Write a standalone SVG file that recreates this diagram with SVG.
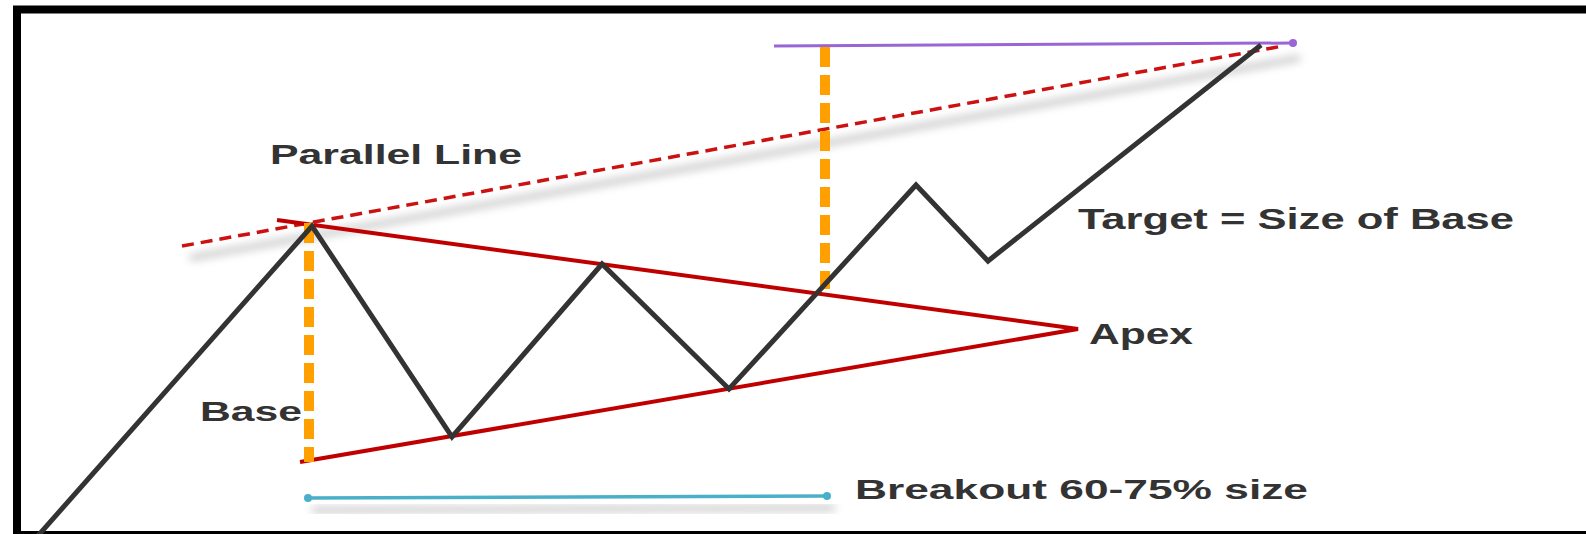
<svg xmlns="http://www.w3.org/2000/svg" width="1586" height="534" viewBox="0 0 1586 534">
<defs>
<style>
.lbl{font-family:"Liberation Sans",Arial,sans-serif;font-weight:bold;fill:#333;}
.price{fill:none;stroke:#333;stroke-width:5;stroke-linejoin:miter;}
.tri{fill:none;stroke:#c00000;stroke-width:4;}
.meas{stroke:#ff9f00;stroke-width:10;stroke-dasharray:20 8;fill:none;}
.shadow{stroke:#9a9a9a;stroke-width:6;opacity:0.55;filter:url(#blur);fill:none;}
</style>
<filter id="blur" x="-10%" y="-200%" width="120%" height="500%"><feGaussianBlur stdDeviation="4"/></filter>
</defs>
<rect x="0" y="0" width="1586" height="534" fill="#fff"/>
<rect x="17" y="9.5" width="1600" height="525.5" fill="none" stroke="#000" stroke-width="8"/>
<g id="shadows">
<line class="shadow" x1="190" y1="258" x2="1300" y2="58"/>
<line class="shadow" x1="312" y1="510" x2="835" y2="508"/>
</g>
<g id="connectors">
<line id="parallel-line" x1="182" y1="246" x2="1283" y2="46" stroke="#cc1111" stroke-width="3.5" stroke-dasharray="12 7"/>
<g id="target-line">
<line x1="774" y1="46" x2="1293" y2="43" stroke="#9a66d6" stroke-width="3"/>
<circle cx="1293" cy="43" r="4" fill="#9a66d6"/>
</g>
<g id="breakout-line">
<line x1="308" y1="498" x2="827" y2="496" stroke="#4ab0c9" stroke-width="3.5"/>
<circle cx="308" cy="498" r="4" fill="#4ab0c9"/>
<circle cx="827" cy="496" r="4" fill="#4ab0c9"/>
</g>
<polyline id="triangle" class="tri" points="277,220 1078,329 300,462"/>
<line id="base-measure" class="meas" x1="309" y1="223" x2="309" y2="462"/>
<line id="target-measure" class="meas" x1="825" y1="47" x2="825" y2="289"/>
<polyline id="price" class="price" points="36,538 312,226 452,437 602,264 729,389 916,185 988,261 1261,45"/>
</g>
<g id="label-parallel"><text class="lbl" x="270" y="164" font-size="28" textLength="252" lengthAdjust="spacingAndGlyphs">Parallel Line</text></g>
<g id="label-target"><text class="lbl" x="1078" y="229" font-size="29" textLength="436" lengthAdjust="spacingAndGlyphs">Target = Size of Base</text></g>
<g id="label-apex"><text class="lbl" x="1089" y="344" font-size="29" textLength="104" lengthAdjust="spacingAndGlyphs">Apex</text></g>
<g id="label-base"><text class="lbl" x="200" y="421" font-size="28" textLength="102" lengthAdjust="spacingAndGlyphs">Base</text></g>
<g id="label-breakout"><text class="lbl" x="855" y="499" font-size="28" textLength="453" lengthAdjust="spacingAndGlyphs">Breakout 60-75% size</text></g>
</svg>
